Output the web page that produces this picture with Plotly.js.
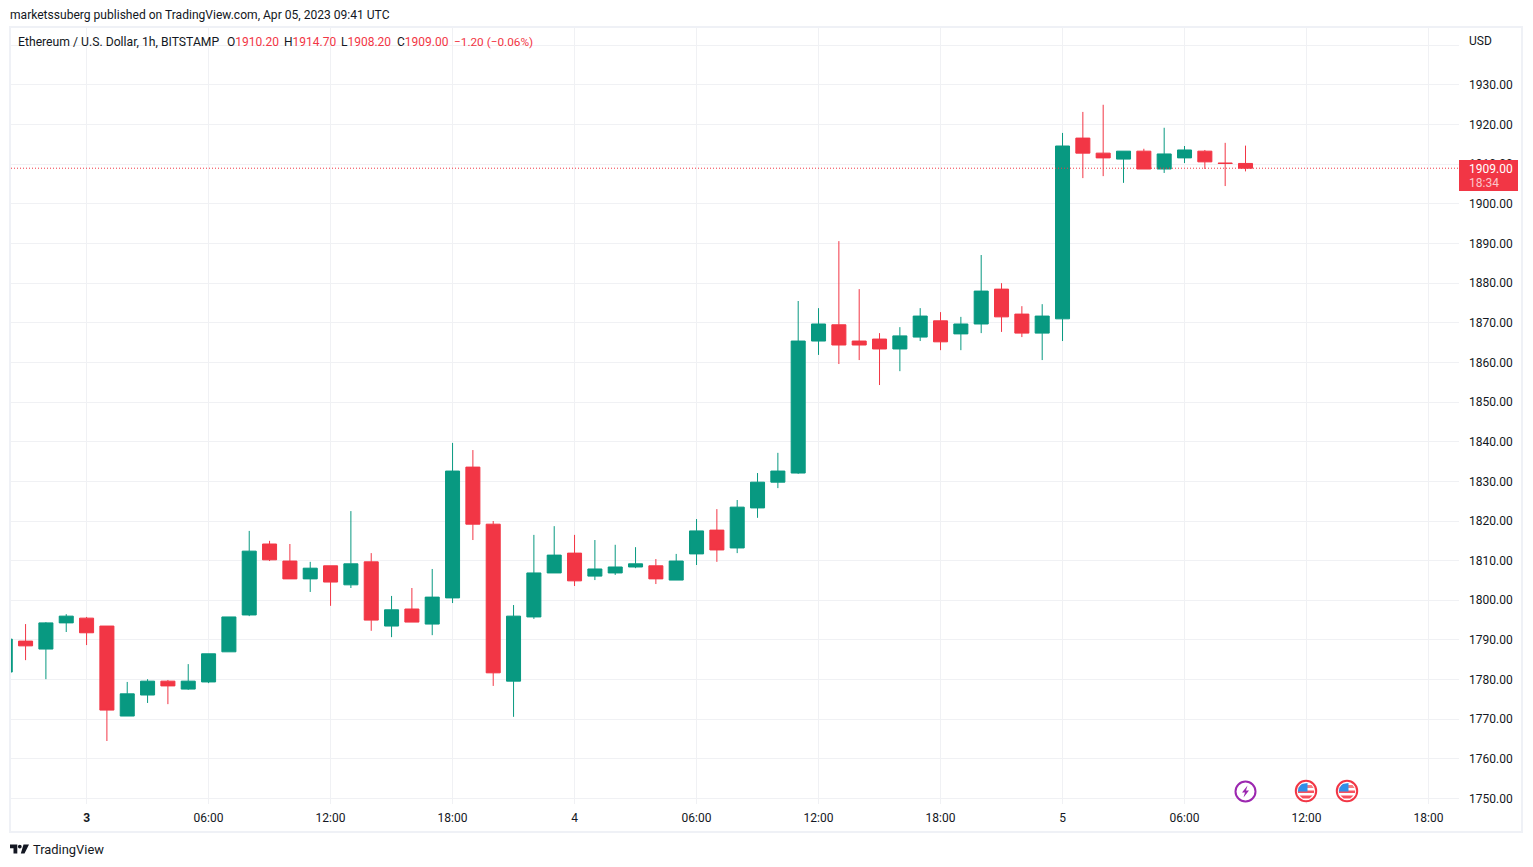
<!DOCTYPE html>
<html><head><meta charset="utf-8">
<script src="https://cdn.plot.ly/plotly-3.0.1.min.js"></script>
<style>html,body{margin:0;padding:0;background:#fff;overflow:hidden}#c{width:1533px;height:867px}</style>
</head><body><div id="c"></div>
<script>
const times = ["2023-04-02 20:00","2023-04-02 21:00","2023-04-02 22:00","2023-04-02 23:00",
"2023-04-03 00:00","2023-04-03 01:00","2023-04-03 02:00","2023-04-03 03:00","2023-04-03 04:00","2023-04-03 05:00","2023-04-03 06:00","2023-04-03 07:00","2023-04-03 08:00","2023-04-03 09:00","2023-04-03 10:00","2023-04-03 11:00","2023-04-03 12:00","2023-04-03 13:00","2023-04-03 14:00","2023-04-03 15:00","2023-04-03 16:00","2023-04-03 17:00","2023-04-03 18:00","2023-04-03 19:00","2023-04-03 20:00","2023-04-03 21:00","2023-04-03 22:00","2023-04-03 23:00",
"2023-04-04 00:00","2023-04-04 01:00","2023-04-04 02:00","2023-04-04 03:00","2023-04-04 04:00","2023-04-04 05:00","2023-04-04 06:00","2023-04-04 07:00","2023-04-04 08:00","2023-04-04 09:00","2023-04-04 10:00","2023-04-04 11:00","2023-04-04 12:00","2023-04-04 13:00","2023-04-04 14:00","2023-04-04 15:00","2023-04-04 16:00","2023-04-04 17:00","2023-04-04 18:00","2023-04-04 19:00","2023-04-04 20:00","2023-04-04 21:00","2023-04-04 22:00","2023-04-04 23:00",
"2023-04-05 00:00","2023-04-05 01:00","2023-04-05 02:00","2023-04-05 03:00","2023-04-05 04:00","2023-04-05 05:00","2023-04-05 06:00","2023-04-05 07:00","2023-04-05 08:00","2023-04-05 09:00"];
const opens = [1781.9,1789.7,1787.7,1794.3,1795.5,1793.5,1770.8,1776.1,1779.6,1777.6,1779.4,1787.0,1796.3,1814.2,1809.9,1805.4,1808.7,1803.9,1809.7,1793.5,1797.8,1794.0,1800.6,1833.6,1819.2,1779.6,1795.8,1806.9,1811.9,1806.1,1806.9,1808.4,1808.7,1805.1,1811.7,1817.7,1813.2,1823.3,1829.8,1832.1,1865.4,1869.5,1865.4,1865.9,1863.4,1866.4,1870.5,1867.2,1869.7,1878.5,1872.2,1867.4,1871.0,1916.6,1912.8,1911.3,1913.3,1908.8,1911.6,1913.3,1910.3,1910.2];
const highs = [1790.2,1794.0,1794.5,1796.5,1795.8,1793.5,1779.4,1780.1,1779.9,1783.9,1786.5,1795.8,1817.5,1815.0,1814.2,1809.7,1808.7,1822.5,1811.9,1801.1,1803.1,1807.9,1839.7,1837.9,1820.0,1798.8,1816.5,1818.7,1816.5,1815.2,1814.0,1813.4,1810.4,1811.7,1820.5,1823.0,1825.3,1832.1,1837.2,1875.5,1873.7,1890.6,1878.5,1867.4,1868.9,1873.7,1872.7,1871.5,1887.1,1880.0,1874.2,1874.7,1917.9,1923.2,1925.0,1913.3,1913.9,1919.2,1914.6,1913.6,1915.4,1914.7];
const lows = [1781.9,1784.9,1780.1,1792.0,1788.7,1764.5,1770.8,1774.1,1773.8,1777.4,1779.1,1787.0,1796.0,1809.9,1805.4,1802.1,1798.6,1803.1,1792.3,1790.7,1794.5,1791.2,1799.3,1815.2,1778.4,1770.6,1795.3,1806.9,1803.6,1805.1,1806.4,1808.1,1804.1,1805.1,1808.9,1809.7,1811.9,1820.8,1828.3,1831.9,1861.9,1859.6,1860.6,1854.3,1857.8,1865.4,1863.1,1863.1,1867.4,1867.7,1866.4,1860.6,1865.4,1906.5,1907.0,1905.3,1908.8,1907.8,1910.3,1908.8,1904.5,1908.2];
const closes = [1790.2,1788.5,1794.3,1796.0,1791.8,1772.3,1776.4,1779.6,1778.4,1779.6,1786.5,1795.8,1812.4,1810.2,1805.4,1808.1,1804.6,1809.2,1795.0,1797.6,1794.5,1800.8,1832.6,1819.2,1781.7,1796.0,1806.9,1811.4,1804.9,1807.9,1808.4,1809.2,1805.4,1809.9,1817.5,1812.7,1823.5,1829.8,1832.6,1865.4,1869.7,1864.4,1864.4,1863.4,1866.7,1871.7,1865.2,1869.7,1878.0,1871.5,1867.4,1871.7,1914.6,1912.8,1911.6,1913.3,1908.8,1912.6,1913.6,1910.6,1910.2,1909.0];
const priceTicks = [1750,1760,1770,1780,1790,1800,1810,1820,1830,1840,1850,1860,1870,1880,1890,1900,1910,1920,1930,1940];
const priceLabels = ["1750.00","1760.00","1770.00","1780.00","1790.00","1800.00","1810.00","1820.00","1830.00","1840.00","1850.00","1860.00","1870.00","1880.00","1890.00","1900.00","1910.00","1920.00","1930.00",""];
const timeTicks = ["2023-04-03 00:00","2023-04-03 06:00","2023-04-03 12:00","2023-04-03 18:00","2023-04-04 00:00","2023-04-04 06:00","2023-04-04 12:00","2023-04-04 18:00","2023-04-05 00:00","2023-04-05 06:00","2023-04-05 12:00","2023-04-05 18:00"];
const timeLabels = ["<b>3</b>","06:00","12:00","18:00","4","06:00","12:00","18:00","5","06:00","12:00","18:00"];
const lastClose = 1909.0;

const FONT = "Roboto, sans-serif", INK = "#131722", GREEN = "#089981", RED = "#f23645", GRID = "#f0f1f4";
const L = 11, R = 1459, T = 28, B = 804, W = 1533, H = 867;
const px = x => (x - L) / (R - L), py = y => (B - y) / (B - T);
const rectP = (x0, y0, x1, y1, fill, line, lw) => ({type:"rect", xref:"paper", yref:"paper", x0:px(x0), x1:px(x1), y0:py(y0), y1:py(y1), fillcolor:fill||"rgba(0,0,0,0)", line:{color:line||"rgba(0,0,0,0)", width:lw||0}, layer:"above"});
const circP = (cx, cy, r, fill, line, lw) => ({type:"circle", xref:"paper", yref:"paper", x0:px(cx-r), x1:px(cx+r), y0:py(cy-r), y1:py(cy+r), fillcolor:fill, line:{color:line||"rgba(0,0,0,0)", width:lw||0}, layer:"above"});
const polyP = (pts, fill) => ({type:"path", xref:"paper", yref:"paper", path:"M"+pts.map(p=>px(p[0])+" "+py(p[1])).join(" L")+" Z", fillcolor:fill, line:{width:0}, layer:"above"});
const note = (x, y, text, o={}) => ({xref:"paper", yref:"paper", x:px(x), y:py(y), text, showarrow:false, xanchor:o.a||"left", yanchor:"middle", borderpad:0, borderwidth:0, font:{family:FONT, size:o.s||12, color:o.c||INK}});

function flag(cx, cy){
  const r = 8.2, out = [];
  out.push(circP(cx, cy, 10.2, "#ffffff", RED, 2));
  const chord = dy => Math.sqrt(Math.max(0, r*r - dy*dy));
  out.push(polyP([[cx-chord(-6),cy-6],[cx+chord(-6),cy-6],[cx+chord(-3),cy-3],[cx-chord(-3),cy-3]], "#f77c80"));
  out.push(polyP([[cx-chord(0),cy-0.5],[cx+chord(0),cy-0.5],[cx+chord(2),cy+2],[cx-chord(2),cy+2]], "#f7525f"));
  out.push(polyP([[cx-chord(5),cy+4.5],[cx+chord(5),cy+4.5],[cx+chord(7.5),cy+7.5],[cx-chord(7.5),cy+7.5]], "#f7525f"));
  out.push(polyP([[cx-chord(-7),cy-7],[cx+1.5,cy-7.9],[cx+1.5,cy+0.5],[cx-8.2,cy+0.5],[cx-7.6,cy-3]], "#2f8fe8"));
  return out;
}

const shapes = [
  {type:"line", xref:"paper", yref:"y", x0:0, x1:1, y0:lastClose, y1:lastClose, line:{color:RED, width:1, dash:"1px,2px"}, layer:"above"},
  rectP(10, 27, 1522, 832, null, "#eff1f6", 2),
  rectP(1459, 160, 1518, 191, RED),
  circP(1245.5, 791.5, 10, "#ffffff", "#9c27b0", 2),
  polyP([[1247.5,785.5],[1242,792.5],[1245,792.5],[1243.5,797.5],[1249,790.5],[1246,790.5]], "#9c27b0"),
  ...flag(1306, 791), ...flag(1347, 791),
  polyP([[10,844.5],[17.3,844.5],[17.3,853.5],[13.5,853.5],[13.5,848.2],[10,848.2]], INK),
  circP(19.8, 846.6, 1.9, INK),
  polyP([[23.5,844.5],[29,844.5],[24.5,853.5],[20.8,853.5]], INK)
];

const annotations = [
  note(10, 14.5, "marketssuberg published on TradingView.com, Apr 05, 2023 09:41 UTC", {s:12.07}),
  note(18, 41.5, "Ethereum / U.S. Dollar, 1h, BITSTAMP", {s:12.2}),
  note(227, 41.5, `O<span style="color:${RED}">1910.20</span>`),
  note(284, 41.5, `H<span style="color:${RED}">1914.70</span>`),
  note(341, 41.5, `L<span style="color:${RED}">1908.20</span>`),
  note(397, 41.5, `C<span style="color:${RED}">1909.00</span>`),
  note(454, 41.5, "−1.20 (−0.06%)", {c:RED, s:11.8}),
  note(1469, 41, "USD"),
  note(1469, 168.5, "1909.00", {c:"#ffffff"}),
  note(1469, 183, "18:34", {c:"#fcc7cb"}),
  note(33, 849.5, "TradingView", {s:12.9})
];

const trace = {type:"candlestick", x:times, open:opens, high:highs, low:lows, close:closes,
  increasing:{line:{color:GREEN, width:1}, fillcolor:GREEN},
  decreasing:{line:{color:RED, width:1}, fillcolor:RED},
  whiskerwidth:0, hoverinfo:"skip", showlegend:false};

const layout = {
  width:W, height:H, autosize:false, margin:{l:L, r:W-R, t:T, b:H-B, pad:0},
  paper_bgcolor:"#ffffff", plot_bgcolor:"#ffffff", showlegend:false, boxgap:0.31, boxgroupgap:0,
  font:{family:FONT, size:12, color:INK},
  xaxis:{type:"date", range:[Date.UTC(2023,3,2,20,17), Date.UTC(2023,3,5,19,30)], rangeslider:{visible:false},
    tickmode:"array", tickvals:timeTicks, ticktext:timeLabels, tickangle:0, ticklen:0, showline:false, zeroline:false,
    showgrid:true, gridcolor:GRID, gridwidth:1, tickfont:{family:FONT, size:12, color:INK}, ticklabelstandoff:5},
  yaxis:{side:"right", range:[1748.61,1944.37], tickmode:"array", tickvals:priceTicks, ticktext:priceLabels, ticklen:0, showline:false, zeroline:false,
    showgrid:true, gridcolor:GRID, gridwidth:1, tickfont:{family:FONT, size:12, color:INK}, ticklabelstandoff:9},
  shapes, annotations
};
Plotly.newPlot("c", [trace], layout, {displayModeBar:false, staticPlot:true});
</script></body></html>
